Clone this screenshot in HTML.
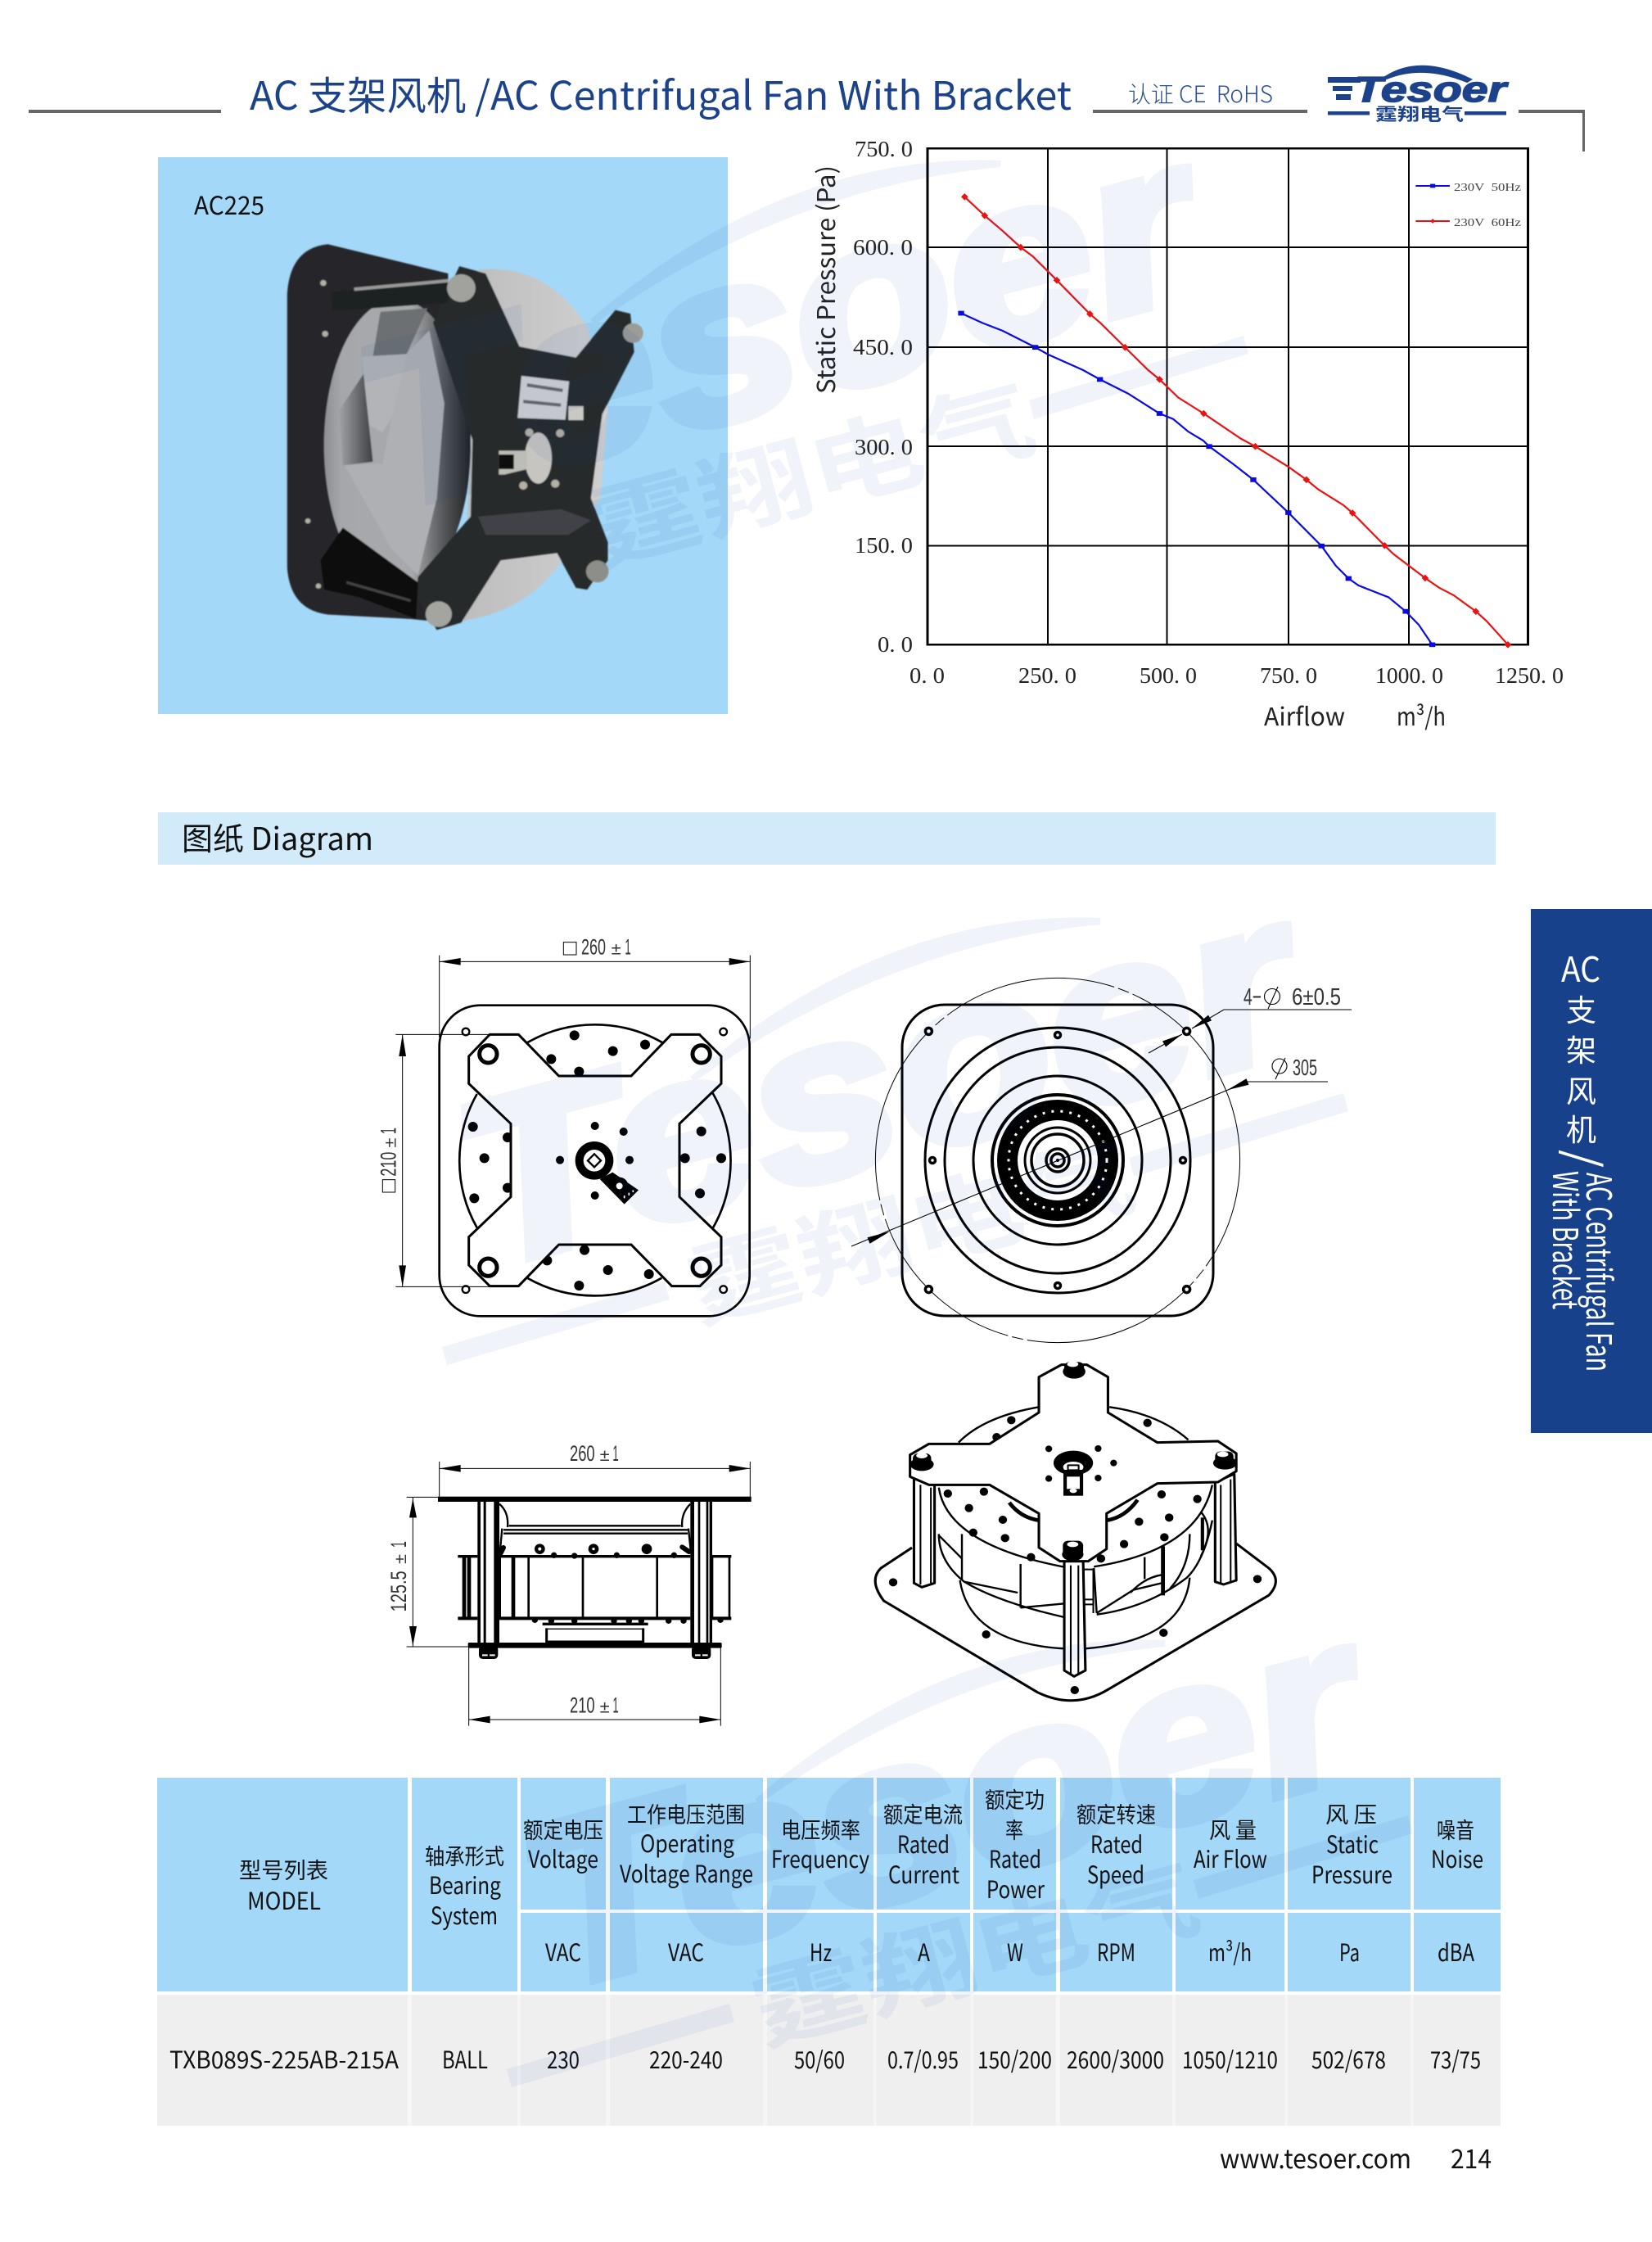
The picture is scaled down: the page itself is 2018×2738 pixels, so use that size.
<!DOCTYPE html>
<html><head><meta charset="utf-8"><style>
html,body{margin:0;padding:0;background:#fff}
svg{display:block}
text{font-family:"Liberation Sans","Noto Sans CJK SC",sans-serif}
.n{font-family:"Noto Sans CJK SC","Liberation Sans",sans-serif;font-weight:400}
.l{font-family:"Noto Sans CJK SC","Liberation Sans",sans-serif;font-weight:300}
.t{font-family:"Noto Sans CJK SC","Liberation Sans",sans-serif;font-weight:400;font-size:29px;fill:#111}
.c{font-family:"Noto Sans CJK SC",sans-serif;font-weight:400;font-size:27px;fill:#111}
.s{font-family:"Liberation Serif",serif;font-size:27px;fill:#222}
.d{font-family:"Liberation Sans",sans-serif;fill:#333}
.g{stroke:#000;stroke-width:2;fill:none;vector-effect:non-scaling-stroke;shape-rendering:crispEdges}
</style></head><body>
<svg xmlns="http://www.w3.org/2000/svg" width="2018" height="2738" viewBox="0 0 2018 2738">
<defs><filter id="b" x="-5%" y="-5%" width="110%" height="110%"><feGaussianBlur stdDeviation="2"/></filter>
<linearGradient id="ig" x1="0" x2="1" y1="0" y2="0"><stop offset="0" stop-color="#8d8f92"/><stop offset=".12" stop-color="#a5a7aa"/><stop offset=".6" stop-color="#a6a8ab"/><stop offset=".8" stop-color="#5a5c5e"/><stop offset="1" stop-color="#202122"/></linearGradient>
<linearGradient id="sh" x1="0" x2="1" y1="0" y2="0"><stop offset="0" stop-color="#a0a2a5"/><stop offset="1" stop-color="#3d3f42"/></linearGradient>
<linearGradient id="dm" x1="0" x2="1" y1="0" y2="0"><stop offset="0" stop-color="#bdbdbd"/><stop offset="1" stop-color="#d0d0d0"/></linearGradient></defs>
<rect width="2018" height="2738" fill="#fff"/>

<!-- header -->
<g fill="#666"><rect x="35" y="134" width="235" height="4"/><rect x="1335" y="134" width="262" height="4"/><rect x="1855" y="134" width="81" height="4"/><rect x="1933" y="134" width="3" height="51"/></g>
<text class="n" x="305" y="134" font-size="48" fill="#1b428b" textLength="1004" lengthAdjust="spacingAndGlyphs">AC 支架风机 /AC Centrifugal Fan With Bracket</text>
<text class="l" x="1378" y="125" font-size="28" fill="#2a4f95" textLength="177" lengthAdjust="spacingAndGlyphs">认证 CE&#160;&#160;RoHS</text>
<!-- logo -->
<g fill="#1b428b">
<path d="M1692 94Q1735 66 1797 97L1792 100Q1738 78 1694 96Z" stroke="#1b428b" stroke-width="2"/>
<rect x="1622" y="94" width="40" height="7"/><rect x="1628" y="105" width="24" height="6"/><rect x="1632" y="115" width="18" height="7"/>
<text x="1654" y="124" font-size="44" font-weight="700" font-style="italic" textLength="186" lengthAdjust="spacingAndGlyphs" stroke="#1b428b" stroke-width="1.5">Tesoer</text>
<rect x="1622" y="136" width="51" height="4.5"/><rect x="1789" y="136" width="51" height="4.5"/>
<text class="n" style="font-weight:700" x="1680" y="147" font-size="21" textLength="108" lengthAdjust="spacingAndGlyphs">霆翔电气</text>
</g>

<!-- photo panel -->
<rect x="193" y="192" width="696" height="680" fill="#a3d8f8"/>
<text class="n" x="237" y="262" font-size="31" fill="#111" textLength="86" lengthAdjust="spacingAndGlyphs">AC225</text>
<g transform="translate(180,180) scale(.4592,.4464)" filter="url(#b)">
<path d="M372 400Q380 275 480 265L800 345V1300L700 1290L480 1278Q380 1265 372 1150Z" fill="#26282a"/>
<path d="M880 335Q1060 315 1170 490L1225 720L1205 960L1090 1150Q1000 1270 840 1295Z" fill="url(#dm)"/>
<ellipse cx="665" cy="815" rx="195" ry="400" fill="url(#ig)"/>
<path d="M620 450L745 440L690 565L600 572Z" fill="#6d6f72"/>
<path d="M570 572L695 565L650 740L625 780L590 760Z" fill="#b2b4b7"/>
<path d="M690 565L750 500L790 700L770 960L720 1170L650 1100L525 870L625 865L650 740Z" fill="#aeb0b3"/>
<path d="M510 720L575 620L600 860L520 870Z" fill="url(#sh)"/>
<path d="M580 1120L700 1180L715 1230L640 1190Z" fill="#b0b2b5"/>
<path d="M830 325L900 345L990 545L1140 575L1245 445L1285 455L1295 560L1210 730L1180 960L1225 1080L1225 1130L1170 1210L1140 1205L1090 1110L940 1130L835 1300L770 1320L715 1230L720 1175L860 1010L865 800L760 480Z" fill="#27292b"/>
<path d="M880 1010L1100 990L1180 1020L1120 1060L900 1060Z" fill="#404347"/>
<path d="M490 395L800 362V425L490 448Z" fill="#1f2021"/><path d="M550 388L800 365" stroke="#999" stroke-width="9"/>
<path d="M460 1130L520 1040L720 1190L715 1290L560 1230L470 1210Z" fill="#0e0e0e"/>
<path d="M530 1190L700 1240" stroke="#444" stroke-width="7"/>
<circle cx="835" cy="385" r="38" fill="#a1a19e"/><circle cx="1292" cy="508" r="27" fill="#9b9b98"/><circle cx="1197" cy="1160" r="30" fill="#8d8d8a"/><circle cx="775" cy="1277" r="35" fill="#a5a5a0"/>
<path d="M995 625L1122 640L1112 745L985 740Z" fill="#d0d1d2"/><path d="M1010 650L1105 665M1000 695L1100 705" stroke="#666" stroke-width="9"/>
<rect x="1120" y="708" width="40" height="38" fill="#c9c9c4"/>
<ellipse cx="1040" cy="850" rx="36" ry="70" fill="#c7c5c0"/><path d="M935 830H1010V880L950 895H935Z" fill="#bdbdb8"/><path d="M935 840H975V880H935Z" fill="#111"/>
<g fill="#b5b0a5"><circle cx="1016" cy="780" r="11"/><circle cx="1098" cy="782" r="11"/><circle cx="1000" cy="925" r="11"/><circle cx="1085" cy="920" r="11"/><circle cx="468" cy="371" r="8"/><circle cx="473" cy="510" r="8"/><circle cx="427" cy="1022" r="7"/><circle cx="455" cy="1200" r="7"/></g>
</g>

<!-- chart -->
<g transform="translate(980,160) scale(.6122,.4785)">
<path class="g" d="M490 44V1311M728 44V1311M970 44V1311M1210 44V1311M250 297H1448M250 552H1448M250 805H1448M250 1058H1448"/>
<rect class="g" x="250" y="44" width="1198" height="1267" style="stroke-width:2.6"/>
<polyline fill="none" stroke="#0a0ae6" stroke-width="2.2" vector-effect="non-scaling-stroke" points="317,465 360,490 400,510 465,552 490,570 560,610 594,634 650,670 713,721 740,735 770,767 800,790 812,805 860,850 900,890 970,974 1036,1059 1065,1110 1090,1142 1110,1160 1170,1190 1204,1226 1230,1260 1257,1311"/>
<polyline fill="none" stroke="#ee1111" stroke-width="2.2" vector-effect="non-scaling-stroke" points="324,168 364,216 400,255 436,297 460,320 490,358 508,381 574,467 595,490 644,552 690,610 713,634 750,680 801,721 875,785 904,805 970,857 1006,890 1030,915 1080,955 1098,975 1162,1058 1180,1080 1243,1141 1270,1165 1300,1185 1344,1226 1365,1250 1408,1311"/>
<path fill="#0a0ae6" d="M311 459h12v12h-12zM459 546h12v12h-12zM588 628h12v12h-12zM707 715h12v12h-12zM806 799h12v12h-12zM894 884h12v12h-12zM964 968h12v12h-12zM1030 1053h12v12h-12zM1084 1136h12v12h-12zM1198 1220h12v12h-12zM1251 1305h12v12h-12z"/>
<path fill="#ee1111" d="M324 159l7 9-7 9-7-9zM364 207l7 9-7 9-7-9zM436 288l7 9-7 9-7-9zM508 372l7 9-7 9-7-9zM574 458l7 9-7 9-7-9zM644 543l7 9-7 9-7-9zM713 625l7 9-7 9-7-9zM801 712l7 9-7 9-7-9zM904 796l7 9-7 9-7-9zM1006 881l7 9-7 9-7-9zM1098 966l7 9-7 9-7-9zM1162 1049l7 9-7 9-7-9zM1243 1132l7 9-7 9-7-9zM1344 1217l7 9-7 9-7-9zM1408 1302l7 9-7 9-7-9z"/>
<path d="M1224 140H1292" stroke="#0a0ae6" stroke-width="2" vector-effect="non-scaling-stroke"/><path d="M1224 230H1292" stroke="#ee1111" stroke-width="2" vector-effect="non-scaling-stroke"/>
<path fill="#0a0ae6" d="M1253 135h10v10h-10z"/><path fill="#ee1111" d="M1258 224l5 6-5 6-5-6z"/>
</g>
<g font-size="14" fill="#444"><text x="1776" y="233" textLength="82" lengthAdjust="spacingAndGlyphs" style="font-family:'Liberation Serif',serif">230V&#160;&#160;50Hz</text><text x="1776" y="276" textLength="82" lengthAdjust="spacingAndGlyphs" style="font-family:'Liberation Serif',serif">230V&#160;&#160;60Hz</text></g>
<g class="s">
<text class="s" x="1044" y="191" textLength="71" lengthAdjust="spacingAndGlyphs">750. 0</text>
<text class="s" x="1042" y="311" textLength="73" lengthAdjust="spacingAndGlyphs">600. 0</text>
<text class="s" x="1042" y="433" textLength="73" lengthAdjust="spacingAndGlyphs">450. 0</text>
<text class="s" x="1044" y="555" textLength="71" lengthAdjust="spacingAndGlyphs">300. 0</text>
<text class="s" x="1044" y="675" textLength="71" lengthAdjust="spacingAndGlyphs">150. 0</text>
<text class="s" x="1072" y="796" textLength="43" lengthAdjust="spacingAndGlyphs">0. 0</text>
<text class="s" x="1111" y="834" textLength="43" lengthAdjust="spacingAndGlyphs">0. 0</text>
<text class="s" x="1244" y="834" textLength="71" lengthAdjust="spacingAndGlyphs">250. 0</text>
<text class="s" x="1392" y="834" textLength="70" lengthAdjust="spacingAndGlyphs">500. 0</text>
<text class="s" x="1539" y="834" textLength="70" lengthAdjust="spacingAndGlyphs">750. 0</text>
<text class="s" x="1680" y="834" textLength="83" lengthAdjust="spacingAndGlyphs">1000. 0</text>
<text class="s" x="1826" y="834" textLength="84" lengthAdjust="spacingAndGlyphs">1250. 0</text>
</g>
<text class="n" x="1544" y="886" font-size="30" fill="#222" textLength="99" lengthAdjust="spacingAndGlyphs">Airflow</text>
<text class="n" x="1706" y="886" font-size="30" fill="#222" textLength="60" lengthAdjust="spacingAndGlyphs">m³/h</text>
<text class="n" transform="translate(1020,481) rotate(-90)" x="0" y="0" font-size="30" fill="#222" textLength="279" lengthAdjust="spacingAndGlyphs">Static Pressure (Pa)</text>

<!-- section bar -->
<rect x="193" y="992" width="1634" height="64" fill="#d2ebfb"/>
<text class="n" x="222" y="1038" font-size="38" fill="#111" textLength="234" lengthAdjust="spacingAndGlyphs">图纸 Diagram</text>

<!-- drawing 1 -->
<g transform="translate(440,1120) scale(.33333)">
<rect x="290" y="323" width="1137" height="1139" rx="150" fill="#fff" stroke="#000" stroke-width="8"/>
<path d="M612 460A499 499 0 0 1 1108 460M1292 645A499 499 0 0 1 1292 1140M428 1138A499 499 0 0 1 428 648M1105 1322A499 499 0 0 1 612 1322" fill="none" stroke="#000" stroke-width="8"/>
<path d="M785 433h.1M926 491h.1M1044 467h.1M700 520h.1M802 566h.1M413 768h.1M540 807h.1M455 883h.1M418 1030h.1M540 992h.1M1250 785h.1M1190 883h.1M1323 883h.1M1245 1012h.1M822 1220h.1M908 1293h.1M1058 1308h.1M802 1350h.1M685 1258h.1" stroke="#000" stroke-width="36" stroke-linecap="round"/>
<path d="M475 430L580 430L728 582L993 582L1140 430L1243 430L1323 510L1323 610L1170 757L1170 1025L1323 1172L1323 1275L1245 1352L1142 1352L993 1200L728 1200L580 1352L475 1352L398 1275L398 1172L552 1025L552 757L398 610L398 510Z" fill="#fff" stroke="#000" stroke-width="9"/>
<g fill="none" stroke="#000"><circle cx="469" cy="502" r="32" stroke-width="15"/><circle cx="1250" cy="502" r="32" stroke-width="15"/><circle cx="469" cy="1283" r="32" stroke-width="15"/><circle cx="1250" cy="1283" r="32" stroke-width="15"/>
<circle cx="387" cy="420" r="13" stroke-width="7"/><circle cx="1331" cy="420" r="13" stroke-width="7"/><circle cx="387" cy="1364" r="13" stroke-width="7"/><circle cx="1331" cy="1364" r="13" stroke-width="7"/></g>
<path d="M860 765h.1M965 786h.1M987 890h.1M732 890h.1M860 1020h.1" stroke="#000" stroke-width="30" stroke-linecap="round"/>
<path d="M925 935L1020 1000L968 1052L878 960Z" fill="#000"/>
<circle cx="858" cy="892" r="70" fill="#000"/><circle cx="858" cy="892" r="40" fill="#fff"/>
<path d="M858 868L882 892L858 916L834 892Z" fill="#fff" stroke="#000" stroke-width="7"/>
<circle cx="950" cy="985" r="32" fill="#000"/><circle cx="950" cy="985" r="12" fill="#fff"/>
<path d="M968 1020v10M985 1010v10M1000 1000v8" stroke="#fff" stroke-width="5"/>
<g stroke="#000" stroke-width="3" fill="none"><path d="M290 140V440M1429 140V445M290 163H1428M130 430H475M130 1354H475M155 430V1354"/><rect x="745" y="92" width="47" height="46"/><rect x="82" y="962" width="46" height="46"/></g>
<path d="M290 163L368 150V176ZM1428 163L1352 150V176ZM155 430L142 510H168ZM155 1354L142 1276H168Z" fill="#000"/>
<text class="d" x="810" y="137" font-size="80" textLength="90" lengthAdjust="spacingAndGlyphs">260</text>
<text class="d" x="920" y="137" font-size="60" textLength="36" lengthAdjust="spacingAndGlyphs">±</text>
<text class="d" x="970" y="137" font-size="80" textLength="22" lengthAdjust="spacingAndGlyphs">1</text>
<text class="d" transform="translate(130,950) rotate(-90)" font-size="80" textLength="90" lengthAdjust="spacingAndGlyphs">210</text>
<text class="d" transform="translate(130,845) rotate(-90)" font-size="60" textLength="36" lengthAdjust="spacingAndGlyphs">±</text>
<text class="d" transform="translate(130,795) rotate(-90)" font-size="80" textLength="24" lengthAdjust="spacingAndGlyphs">1</text>
</g>

<!-- drawing 2 -->
<g transform="translate(1292,1417)" fill="none" stroke="#000">
<circle r="222.6" stroke-width="1" stroke-dasharray="138 5 14 5 225 5 14 5 215 5 14 5 230 5 14 5 215 5 14 5 255 0"/>
<rect x="-190" y="-190" width="380" height="380" rx="52" stroke-width="3"/>
<circle r="162" stroke-width="3"/><circle r="138" stroke-width="3"/><circle r="103" stroke-width="3"/><circle r="80" stroke-width="4"/>
<circle r="74" fill="#000" stroke="none"/>
<circle r="60" stroke="#fff" stroke-width="3" stroke-dasharray="3 8"/>
<circle r="49" fill="#fff" stroke="none"/>
<circle r="40" stroke-width="3"/><circle r="32" stroke-width="3.5"/>
<circle r="14" stroke-width="3.5"/><circle r="8" stroke-width="3.5"/><circle r="2" fill="#000" stroke="none"/>
<g fill="#fff" stroke-width="3.5"><circle cy="-153" r="3.5"/><circle cy="153" r="3.5"/><circle cx="-153" r="3.5"/><circle cx="153" r="3.5"/>
<circle cx="-157.6" cy="-157.6" r="4"/><circle cx="157.6" cy="-157.6" r="4"/><circle cx="-157.6" cy="157.6" r="4"/><circle cx="157.6" cy="157.6" r="4"/></g>
</g>
<g stroke="#000" stroke-width="1.1" fill="none"><path d="M1040 1522L1524 1321H1622M1651 1233H1495L1456 1256M1403 1286L1444 1263"/><circle cx="1563" cy="1302" r="9"/><path d="M1558 1318L1570 1292"/><circle cx="1554" cy="1217" r="9.5"/><path d="M1549 1232L1561 1205"/></g>
<path d="M1499 1331.3L1525.5 1324.7L1522.5 1317.3ZM1087 1504L1062.5 1518.7L1059.5 1511.3ZM1456 1256L1480 1246.4L1476 1239.6ZM1444 1263L1424 1278.5L1420 1271.5Z" fill="#000"/>
<text class="d" x="1579" y="1313" font-size="28" textLength="30" lengthAdjust="spacingAndGlyphs">305</text>
<text class="d" x="1519" y="1227" font-size="29" textLength="22" lengthAdjust="spacingAndGlyphs">4−</text>
<text class="d" x="1578" y="1227" font-size="29" textLength="60" lengthAdjust="spacingAndGlyphs">6±0.5</text>

<!-- drawing 3 -->
<g transform="translate(440,1720) scale(.33333)">
<g stroke="#000" stroke-width="3" fill="none"><path d="M290 195V323M1429 195V323M290 220H1429M193 325V872M170 325H290M170 873H395M398 875V1163M1321 875V1163M398 1140H1321"/></g>
<path d="M290 220L368 207V233ZM1429 220L1352 207V233ZM193 330L180 400H207ZM193 870L180 798H207ZM398 1140L476 1127V1153ZM1321 1140L1243 1127V1153Z" fill="#000"/>
<g stroke="#000" fill="none">
<path d="M510 350Q545 380 540 435M1210 350Q1175 385 1180 435" stroke-width="7"/>
<path d="M545 430H1175M525 445H1200M525 458H1200" stroke-width="7"/>
<path d="M520 440L512 530M1203 440L1212 530" stroke-width="7"/>
<path d="M358 542H430M510 542H1210M1290 542H1360" stroke-width="10"/>
<path d="M358 769H430M510 769H1210M1290 769H1360" stroke-width="12"/>
<path d="M668 790H1055" stroke-width="10"/>
<path d="M384 545V765M402 545V765M512 545V765M564 545V765M617 545V765M816 545V765M1088 545V765M1290 545V765M1353 545V765" stroke-width="8"/>
<path d="M378 545V765M396 545V765M558 545V765" stroke-width="8"/>
<path d="M683 805V855H1037V805" stroke-width="9"/><path d="M683 808H1037" stroke-width="4"/>
</g>
<path d="M658 515h.1M855 515h.1M1050 515h.1" stroke="#000" stroke-width="38" stroke-linecap="round"/>
<circle cx="658" cy="515" r="6" fill="#fff"/><circle cx="855" cy="515" r="5" fill="#fff"/>
<path d="M525 510L515 530M1180 508L1205 525" stroke="#000" stroke-width="18" stroke-linecap="round"/>
<path d="M710 538h.1M785 540h.1M940 538h.1M1150 538h.1M640 775h.1M700 778h.1M785 778h.1M930 778h.1M985 778h.1M1030 778h.1M1130 778h.1M1185 778h.1M1320 775h.1" stroke="#000" stroke-width="22" stroke-linecap="round"/>
<rect x="285" y="323" width="1148" height="19" fill="#000"/>
<rect x="395" y="858" width="930" height="20" rx="5" fill="#000"/>
<path d="M430 342h11v516h-11zM452 342h9v516h-9zM490 342h20v516h-20zM1210 342h14v516h-14zM1238 342h8v516h-8zM1268 342h8v516h-8zM1280 342h10v516h-10z" fill="#000"/>
<rect x="435" y="870" width="70" height="48" rx="14" fill="#000"/><rect x="1215" y="870" width="70" height="48" rx="14" fill="#000"/>
<path d="M447 904h20M474 904h20M1227 904h20M1254 904h20" stroke="#fff" stroke-width="6"/>
<text class="d" x="768" y="192" font-size="80" textLength="92" lengthAdjust="spacingAndGlyphs">260</text>
<text class="d" x="878" y="192" font-size="60" textLength="36" lengthAdjust="spacingAndGlyphs">±</text>
<text class="d" x="925" y="192" font-size="80" textLength="22" lengthAdjust="spacingAndGlyphs">1</text>
<text class="d" x="768" y="1115" font-size="80" textLength="92" lengthAdjust="spacingAndGlyphs">210</text>
<text class="d" x="878" y="1115" font-size="60" textLength="36" lengthAdjust="spacingAndGlyphs">±</text>
<text class="d" x="925" y="1115" font-size="80" textLength="22" lengthAdjust="spacingAndGlyphs">1</text>
<text class="d" transform="translate(168,745) rotate(-90)" font-size="80" textLength="150" lengthAdjust="spacingAndGlyphs">125.5</text>
<text class="d" transform="translate(168,570) rotate(-90)" font-size="60" textLength="36" lengthAdjust="spacingAndGlyphs">±</text>
<text class="d" transform="translate(168,510) rotate(-90)" font-size="80" textLength="24" lengthAdjust="spacingAndGlyphs">1</text>
</g>

<!-- drawing 4 -->
<g transform="translate(1040,1640) scale(.34444,.33333)" stroke-linejoin="round">
<path d="M215 750L105 825Q60 870 115 945L660 1280Q790 1345 910 1270L1480 925Q1530 870 1480 825L1365 735" fill="none" stroke="#000" stroke-width="9"/>
<g fill="none" stroke="#000" stroke-width="7">
<path d="M380 365Q470 270 665 235M915 235Q1090 260 1195 355"/>
<path d="M310 530Q340 740 760 822M860 820Q1230 760 1280 520"/>
<path d="M310 700Q310 800 400 875Q520 950 755 1005M1280 650Q1250 800 1190 860Q1050 970 870 995"/>
<path d="M385 870Q420 1100 755 1120M830 1120Q1180 1090 1200 860"/>
<path d="M392 700V870M600 810V970M860 825L870 990M1040 785V865M400 875L590 915M600 970L755 955"/>
<path d="M310 705L392 790M990 915Q1040 860 1100 850M870 990L1000 905L1100 880M1130 900Q1200 820 1200 700M1240 620Q1290 680 1240 780"/>
<path d="M1105 745V925" stroke-width="14"/><path d="M1245 640V760" stroke-width="12"/>
<path d="M560 585Q600 640 665 650M1015 575Q970 640 905 650" stroke-width="14"/>
</g>
<path d="M567 283h.1M1050 293h.1M515 345h.1M342 552h.1M470 545h.1M417 605h.1M537 648h.1M432 695h.1M545 715h.1M637 785h.1M1100 555h.1M1227 572h.1M1020 655h.1M1127 640h.1M1110 712h.1M967 737h.1M885 790h.1M148 877h.1M1440 865h.1M478 1068h.1M1107 1062h.1M792 1272h.1" stroke="#000" stroke-width="30" stroke-linecap="round"/>
<path d="M222 490V880L250 895L295 880V510ZM1290 510V875L1320 885L1365 870L1358 480ZM755 800V1200L790 1222L830 1200L822 800Z" fill="#fff" stroke="#000" stroke-width="9"/>
<path d="M245 520V885M282 530V880M1310 520V880M1345 500V875M778 815V1215M805 815V1215" stroke="#000" stroke-width="6"/>
<path d="M822 830H858V990M825 940H860M825 958H860" fill="none" stroke="#000" stroke-width="6"/>
<path d="M665 125L745 80L835 80L910 125L910 255L1085 365L1300 360L1365 405L1365 470L1300 510L1085 515L905 625L905 755L840 800L740 800L665 750L665 625L490 520L275 520L208 490L208 410L275 370L490 370L665 255Z" fill="#fff" stroke="#000" stroke-width="9"/>
<g fill="#000"><ellipse cx="790" cy="105" rx="40" ry="26"/><rect x="755" y="70" width="70" height="40" rx="18"/><ellipse cx="250" cy="445" rx="42" ry="24"/><rect x="218" y="405" width="65" height="45" rx="18"/><ellipse cx="1325" cy="440" rx="42" ry="24"/><rect x="1290" y="398" width="65" height="45" rx="18"/><ellipse cx="785" cy="775" rx="38" ry="24"/><rect x="750" y="725" width="72" height="55" rx="18"/></g>
<g fill="#fff"><ellipse cx="785" cy="78" rx="20" ry="10"/><ellipse cx="250" cy="413" rx="20" ry="10"/><ellipse cx="1317" cy="408" rx="20" ry="10"/><ellipse cx="785" cy="738" rx="20" ry="10"/></g>
<path d="M700 388h.1M875 387h.1M930 440h.1M700 497h.1M875 495h.1" stroke="#000" stroke-width="24" stroke-linecap="round"/>
<ellipse cx="787" cy="440" rx="70" ry="45" fill="#000"/><ellipse cx="787" cy="455" rx="36" ry="20" fill="#fff"/>
<rect x="752" y="465" width="70" height="95" fill="#000"/><rect x="768" y="448" width="38" height="18" fill="none" stroke="#000" stroke-width="6"/>
<path d="M764 490H810V535H764Z" fill="#fff"/><ellipse cx="787" cy="542" rx="13" ry="8" fill="#fff"/>
</g>

<!-- table -->
<rect x="192" y="2436" width="1641" height="160" fill="#f6f6f6"/>
<g fill="#a3d8f8">
<rect x="192" y="2171" width="306" height="261"/><rect x="503" y="2171" width="129" height="261"/>
<rect x="636" y="2171" width="104" height="161"/><rect x="745" y="2171" width="187" height="161"/><rect x="937" y="2171" width="130" height="161"/><rect x="1071" y="2171" width="114" height="161"/><rect x="1189" y="2171" width="101" height="161"/><rect x="1295" y="2171" width="137" height="161"/><rect x="1436" y="2171" width="133" height="161"/><rect x="1573" y="2171" width="150" height="161"/><rect x="1727" y="2171" width="106" height="161"/>
<rect x="636" y="2336" width="104" height="96"/><rect x="745" y="2336" width="187" height="96"/><rect x="937" y="2336" width="130" height="96"/><rect x="1071" y="2336" width="114" height="96"/><rect x="1189" y="2336" width="101" height="96"/><rect x="1295" y="2336" width="137" height="96"/><rect x="1436" y="2336" width="133" height="96"/><rect x="1573" y="2336" width="150" height="96"/><rect x="1727" y="2336" width="106" height="96"/>
</g>
<g fill="#efeff0">
<rect x="192" y="2436" width="306" height="160"/><rect x="503" y="2436" width="129" height="160"/><rect x="636" y="2436" width="104" height="160"/><rect x="745" y="2436" width="187" height="160"/><rect x="937" y="2436" width="130" height="160"/><rect x="1071" y="2436" width="114" height="160"/><rect x="1189" y="2436" width="101" height="160"/><rect x="1295" y="2436" width="137" height="160"/><rect x="1436" y="2436" width="133" height="160"/><rect x="1573" y="2436" width="150" height="160"/><rect x="1727" y="2436" width="106" height="160"/>
</g>
<text class="c" x="292" y="2294" textLength="109" lengthAdjust="spacingAndGlyphs">型号列表</text><text class="t" x="302" y="2332" textLength="90" lengthAdjust="spacingAndGlyphs">MODEL</text>
<text class="c" x="519" y="2277" textLength="97" lengthAdjust="spacingAndGlyphs">轴承形式</text><text class="t" x="524" y="2313" textLength="88" lengthAdjust="spacingAndGlyphs">Bearing</text><text class="t" x="526" y="2350" textLength="82" lengthAdjust="spacingAndGlyphs">System</text>
<text class="c" x="639" y="2245" textLength="98" lengthAdjust="spacingAndGlyphs">额定电压</text><text class="t" x="645" y="2281" textLength="86" lengthAdjust="spacingAndGlyphs">Voltage</text>
<text class="c" x="766" y="2226" textLength="144" lengthAdjust="spacingAndGlyphs">工作电压范围</text><text class="t" x="782" y="2262" textLength="115" lengthAdjust="spacingAndGlyphs">Operating</text><text class="t" x="757" y="2299" textLength="163" lengthAdjust="spacingAndGlyphs">Voltage Range</text>
<text class="c" x="954" y="2245" textLength="97" lengthAdjust="spacingAndGlyphs">电压频率</text><text class="t" x="942" y="2281" textLength="120" lengthAdjust="spacingAndGlyphs">Frequency</text>
<text class="c" x="1079" y="2226" textLength="97" lengthAdjust="spacingAndGlyphs">额定电流</text><text class="t" x="1096" y="2263" textLength="64" lengthAdjust="spacingAndGlyphs">Rated</text><text class="t" x="1085" y="2300" textLength="87" lengthAdjust="spacingAndGlyphs">Current</text>
<text class="c" x="1203" y="2208" textLength="73" lengthAdjust="spacingAndGlyphs">额定功</text><text class="c" x="1228" y="2245" textLength="22" lengthAdjust="spacingAndGlyphs">率</text><text class="t" x="1208" y="2281" textLength="64" lengthAdjust="spacingAndGlyphs">Rated</text><text class="t" x="1205" y="2318" textLength="71" lengthAdjust="spacingAndGlyphs">Power</text>
<text class="c" x="1315" y="2226" textLength="97" lengthAdjust="spacingAndGlyphs">额定转速</text><text class="t" x="1332" y="2263" textLength="64" lengthAdjust="spacingAndGlyphs">Rated</text><text class="t" x="1328" y="2300" textLength="70" lengthAdjust="spacingAndGlyphs">Speed</text>
<text class="c" x="1477" y="2245" textLength="58" lengthAdjust="spacingAndGlyphs">风&#160;量</text><text class="t" x="1458" y="2281" textLength="90" lengthAdjust="spacingAndGlyphs">Air Flow</text>
<text class="c" x="1619" y="2226" textLength="63" lengthAdjust="spacingAndGlyphs">风&#160;压</text><text class="t" x="1620" y="2263" textLength="64" lengthAdjust="spacingAndGlyphs">Static</text><text class="t" x="1602" y="2300" textLength="99" lengthAdjust="spacingAndGlyphs">Pressure</text>
<text class="c" x="1755" y="2245" textLength="46" lengthAdjust="spacingAndGlyphs">噪音</text><text class="t" x="1748" y="2281" textLength="64" lengthAdjust="spacingAndGlyphs">Noise</text>
<text class="t" x="666" y="2395" textLength="44" lengthAdjust="spacingAndGlyphs">VAC</text><text class="t" x="816" y="2395" textLength="44" lengthAdjust="spacingAndGlyphs">VAC</text><text class="t" x="989" y="2395" textLength="27" lengthAdjust="spacingAndGlyphs">Hz</text><text class="t" x="1121" y="2395" textLength="15" lengthAdjust="spacingAndGlyphs">A</text><text class="t" x="1230" y="2395" textLength="20" lengthAdjust="spacingAndGlyphs">W</text><text class="t" x="1340" y="2395" textLength="47" lengthAdjust="spacingAndGlyphs">RPM</text><text class="t" x="1476" y="2395" textLength="53" lengthAdjust="spacingAndGlyphs">m³/h</text><text class="t" x="1636" y="2395" textLength="25" lengthAdjust="spacingAndGlyphs">Pa</text><text class="t" x="1756" y="2395" textLength="45" lengthAdjust="spacingAndGlyphs">dBA</text>
<text class="t" x="207" y="2526" textLength="280" lengthAdjust="spacingAndGlyphs">TXB089S-225AB-215A</text><text class="t" x="540" y="2526" textLength="56" lengthAdjust="spacingAndGlyphs">BALL</text><text class="t" x="668" y="2526" textLength="40" lengthAdjust="spacingAndGlyphs">230</text><text class="t" x="793" y="2526" textLength="90" lengthAdjust="spacingAndGlyphs">220-240</text><text class="t" x="970" y="2526" textLength="62" lengthAdjust="spacingAndGlyphs">50/60</text><text class="t" x="1084" y="2526" textLength="87" lengthAdjust="spacingAndGlyphs">0.7/0.95</text><text class="t" x="1194" y="2526" textLength="91" lengthAdjust="spacingAndGlyphs">150/200</text><text class="t" x="1303" y="2526" textLength="119" lengthAdjust="spacingAndGlyphs">2600/3000</text><text class="t" x="1444" y="2526" textLength="117" lengthAdjust="spacingAndGlyphs">1050/1210</text><text class="t" x="1602" y="2526" textLength="91" lengthAdjust="spacingAndGlyphs">502/678</text><text class="t" x="1747" y="2526" textLength="62" lengthAdjust="spacingAndGlyphs">73/75</text>
<text class="t" x="1490" y="2648" textLength="234" lengthAdjust="spacingAndGlyphs" style="font-size:32px">www.tesoer.com</text>
<text class="t" x="1772" y="2648" textLength="50" lengthAdjust="spacingAndGlyphs" style="font-size:32px">214</text>

<!-- side tab -->
<rect x="1870" y="1110" width="148" height="640" fill="#18418c"/>
<g fill="#fff">
<text class="n" x="1907" y="1199" font-size="42" fill="#fff" textLength="48" lengthAdjust="spacingAndGlyphs">AC</text>
<text class="n" x="1913" y="1247" font-size="37" fill="#fff">支</text>
<text class="n" x="1913" y="1296" font-size="37" fill="#fff">架</text>
<text class="n" x="1913" y="1346" font-size="37" fill="#fff">风</text>
<text class="n" x="1913" y="1393" font-size="37" fill="#fff">机</text>
<text class="n" transform="translate(1914,1404) rotate(90)" font-size="56" fill="#fff">/</text>
<text class="n" transform="translate(1938,1432) rotate(90)" font-size="42" fill="#fff" textLength="243" lengthAdjust="spacingAndGlyphs">AC Centrifugal Fan</text>
<text class="n" transform="translate(1897,1430) rotate(90)" font-size="42" fill="#fff" textLength="169" lengthAdjust="spacingAndGlyphs">With Bracket</text>
</g>

<!-- watermarks -->
<g fill="#1b4a9b" stroke="none" opacity=".065">
<g>
<text transform="translate(470,625) rotate(-15)" font-size="285" font-weight="700" font-style="italic" stroke="#1b4a9b" stroke-width="12" textLength="1040" lengthAdjust="spacingAndGlyphs">Tesoer</text>
<path d="M724 393Q960 190 1222 200Q960 225 724 393Z" stroke="#1b4a9b" stroke-width="8"/>
<text class="n" style="font-weight:700" transform="translate(730,690) rotate(-15)" font-size="110" textLength="560" lengthAdjust="spacingAndGlyphs">霆翔电气</text>
<path d="M1257 489L1519 410L1525 432L1263 512Z"/>
</g>
<g transform="translate(122,925)">
<text transform="translate(470,625) rotate(-15)" font-size="285" font-weight="700" font-style="italic" stroke="#1b4a9b" stroke-width="12" textLength="1040" lengthAdjust="spacingAndGlyphs">Tesoer</text>
<path d="M724 393Q960 190 1222 200Q960 225 724 393Z" stroke="#1b4a9b" stroke-width="8"/>
<text class="n" style="font-weight:700" transform="translate(730,690) rotate(-15)" font-size="110" textLength="560" lengthAdjust="spacingAndGlyphs">霆翔电气</text>
<path d="M1257 489L1519 410L1525 432L1263 512Z"/><path d="M418 720L690 640L696 662L424 742Z"/>
</g>
<g transform="translate(201,1807)">
<text transform="translate(470,625) rotate(-15)" font-size="285" font-weight="700" font-style="italic" stroke="#1b4a9b" stroke-width="12" textLength="1040" lengthAdjust="spacingAndGlyphs">Tesoer</text>
<path d="M724 393Q960 190 1222 200Q960 225 724 393Z" stroke="#1b4a9b" stroke-width="8"/>
<text class="n" style="font-weight:700" transform="translate(730,690) rotate(-15)" font-size="110" textLength="560" lengthAdjust="spacingAndGlyphs">霆翔电气</text>
<path d="M1257 489L1519 410L1525 432L1263 512Z"/><path d="M418 720L690 640L696 662L424 742Z"/>
</g>
</g>
</svg>
</body></html>
